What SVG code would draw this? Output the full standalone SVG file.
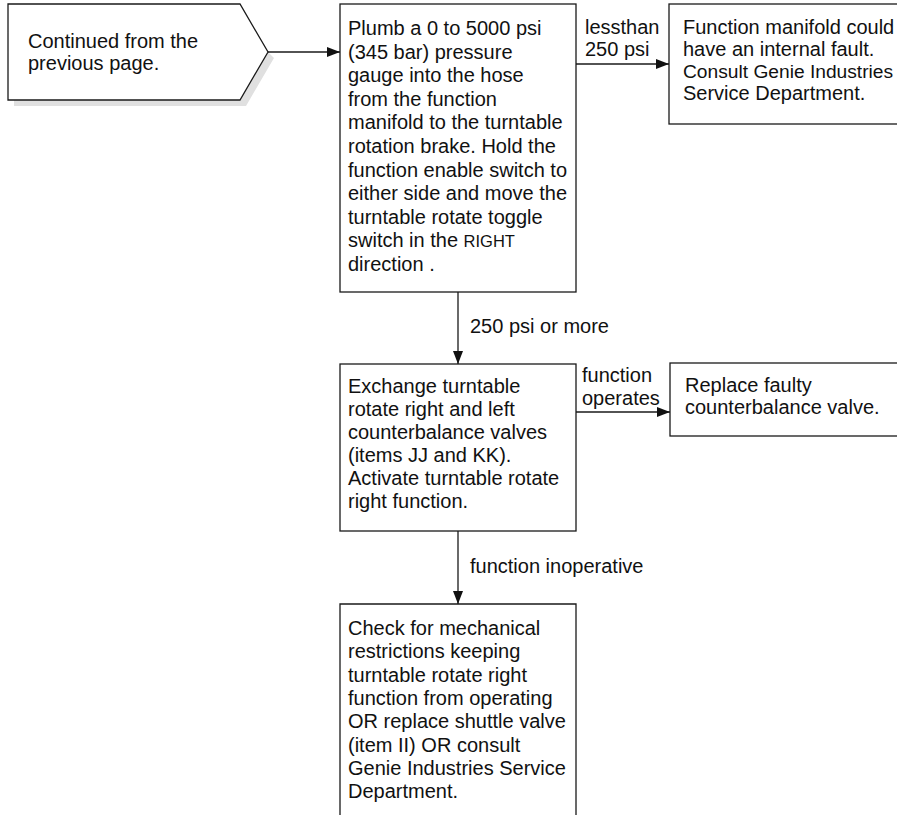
<svg xmlns="http://www.w3.org/2000/svg" width="897" height="815" viewBox="0 0 897 815">
  <defs>
    <marker id="arrow" markerUnits="userSpaceOnUse" markerWidth="13" markerHeight="10" refX="13" refY="5" orient="auto">
      <path d="M0,0 L13,5 L0,10 Z" fill="#111"/>
    </marker>
    <style>
      .box { fill: #fff; stroke: #1a1a1a; stroke-width: 1.3; }
      .shadow { fill: #e0e0e0; stroke: none; }
      .edge { fill: none; stroke: #1a1a1a; stroke-width: 1.3; marker-end: url(#arrow); }
      text { font-family: "Liberation Sans", Arial, Helvetica, sans-serif; font-size: 20px; fill: #111; }
      .sc { font-size: 16.5px; }
      .tight { font-size: 19.2px; }
    </style>
  </defs>

  <rect width="897" height="815" fill="#fff"/>

  <!-- start: off-page connector -->
  <g id="start">
    <path class="shadow" d="M268,52 L274,58 L246,106 L14,106 L14,100 L240,100 Z"/>
    <path class="box" d="M8,4 L240,4 L268,52 L240,100 L8,100 Z"/>
    <text x="28" y="48">Continued from the<tspan x="28" dy="22">previous page.</tspan></text>
  </g>

  <!-- step 1: gauge check -->
  <g id="gauge-check">
    <rect class="box" x="340" y="4" width="236" height="288"/>
    <text x="348" y="35">Plumb a 0 to 5000 psi<tspan x="348" dy="23.6">(345 bar) pressure</tspan><tspan x="348" dy="23.6">gauge into the hose</tspan><tspan x="348" dy="23.6">from the function</tspan><tspan x="348" dy="23.6">manifold to the turntable</tspan><tspan x="348" dy="23.6">rotation brake. Hold the</tspan><tspan x="348" dy="23.6">function enable switch to</tspan><tspan x="348" dy="23.6">either side and move the</tspan><tspan x="348" dy="23.6">turntable rotate toggle</tspan><tspan x="348" dy="23.6">switch in the <tspan class="sc">RIGHT</tspan></tspan><tspan x="348" dy="23.6">direction .</tspan></text>
  </g>

  <!-- manifold fault -->
  <g id="manifold-fault">
    <rect class="box" x="669" y="4" width="240" height="120"/>
    <text x="683" y="34">Function manifold could</text>
    <text x="683" y="56">have an internal fault.</text>
    <text class="tight" x="683" y="78">Consult Genie Industries</text>
    <text x="683" y="100">Service Department.</text>
  </g>

  <!-- step 2: exchange valves -->
  <g id="exchange-valves">
    <rect class="box" x="340" y="364" width="236" height="167"/>
    <text x="348" y="393">Exchange turntable<tspan x="348" dy="23">rotate right and left</tspan><tspan x="348" dy="23">counterbalance valves</tspan><tspan x="348" dy="23">(items JJ and KK).</tspan><tspan x="348" dy="23">Activate turntable rotate</tspan><tspan x="348" dy="23">right function.</tspan></text>
  </g>

  <!-- replace valve -->
  <g id="replace-valve">
    <rect class="box" x="670" y="363" width="240" height="73"/>
    <text x="685" y="392">Replace faulty<tspan x="685" dy="22">counterbalance valve.</tspan></text>
  </g>

  <!-- step 3: mechanical check -->
  <g id="mechanical-check">
    <path class="box" d="M340,830 V604 H576 V830"/>
    <text x="348" y="635">Check for mechanical<tspan x="348" dy="23.3">restrictions keeping</tspan><tspan x="348" dy="23.3">turntable rotate right</tspan><tspan x="348" dy="23.3">function from operating</tspan><tspan x="348" dy="23.3">OR replace shuttle valve</tspan><tspan x="348" dy="23.3">(item II) OR consult</tspan><tspan x="348" dy="23.3">Genie Industries Service</tspan><tspan x="348" dy="23.3">Department.</tspan></text>
  </g>

  <!-- connectors -->
  <g id="connectors">
    <path class="edge" d="M268,52 H340"/>
    <path class="edge" d="M576,64 H669"/>
    <path class="edge" d="M458,292 V364"/>
    <path class="edge" d="M576,412 H670"/>
    <path class="edge" d="M458,531 V604"/>
    <text x="585" y="34">lessthan<tspan x="585" dy="22">250 psi</tspan></text>
    <text x="470" y="333">250 psi or more</text>
    <text x="582" y="382">function<tspan x="582" dy="23">operates</tspan></text>
    <text x="470" y="573">function inoperative</text>
  </g>
</svg>
